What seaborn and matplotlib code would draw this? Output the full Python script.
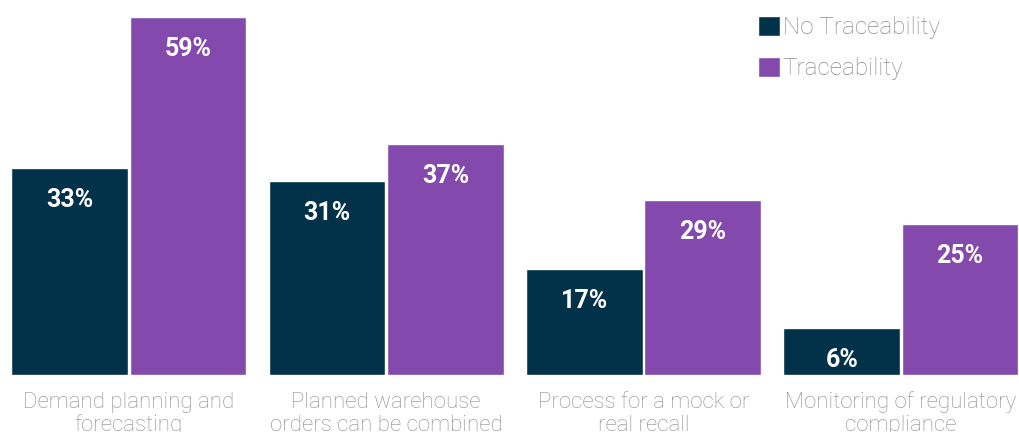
import matplotlib
matplotlib.use('Agg')
import matplotlib.pyplot as plt
import pandas as pd
import seaborn as sns

# Chart data (bar heights, labels as printed)
categories = ['Demand planning and\nforecasting',
              'Planned warehouse\norders can be combined',
              'Process for a mock or\nreal recall',
              'Monitoring of regulatory\ncompliance']
groups = ['No Traceability', 'Traceability']
no_trace = [34.1, 32.0, 17.5, 7.7]
trace = [59.0, 38.1, 28.8, 24.9]
no_trace_labels = ['33%', '31%', '17%', '6%']
trace_labels = ['59%', '37%', '29%', '25%']

colors = ['#02324a', '#8449ad']
gray = '#8c8c8c'

df = pd.DataFrame({
    'category': categories * 2,
    'group': [groups[0]] * 4 + [groups[1]] * 4,
    'value': no_trace + trace,
})

sns.set_theme(style='white')
plt.rcParams['font.family'] = ['Roboto', 'DejaVu Sans']

fig = plt.figure(figsize=(10.19, 4.32), dpi=100)
ax = fig.add_axes([0, (432 - 375) / 432, 1, (375 - 17) / 432])

sns.barplot(data=df, x='category', y='value', hue='group', palette=colors,
            width=0.92, gap=0.015, saturation=1, ax=ax, legend=True)

ax.set_ylim(0, 59)
ax.set_xlim(-0.501, 3.459)
sns.despine(ax=ax, left=True, bottom=True)
ax.set_yticks([])
ax.set_xlabel('')
ax.set_ylabel('')
ax.tick_params(axis='x', length=0, pad=12)
for lbl in ax.get_xticklabels():
    lbl.set_fontsize(16)
    lbl.set_color(gray)
    lbl.set_fontweight('light')
    lbl.set_linespacing(1.12)

# value labels inside bars
for container, labels in zip(ax.containers, [no_trace_labels, trace_labels]):
    for bar, txt in zip(container, labels):
        h = bar.get_height()
        ax.annotate(txt, (bar.get_x() + bar.get_width() / 2, h),
                    xytext=(0, -32), textcoords='offset pixels',
                    ha='center', va='center', color='white',
                    fontsize=18, fontweight='bold')

leg = ax.legend(loc='upper left', bbox_to_anchor=(736 / 1019, 1 + 23 / 358),
                frameon=False, fontsize=17.5, handlelength=0.9, handleheight=0.9,
                handletextpad=0.12, labelspacing=0.72)
for t in leg.get_texts():
    t.set_color(gray)
    t.set_fontweight('light')

fig.savefig('out.png', dpi=100)
